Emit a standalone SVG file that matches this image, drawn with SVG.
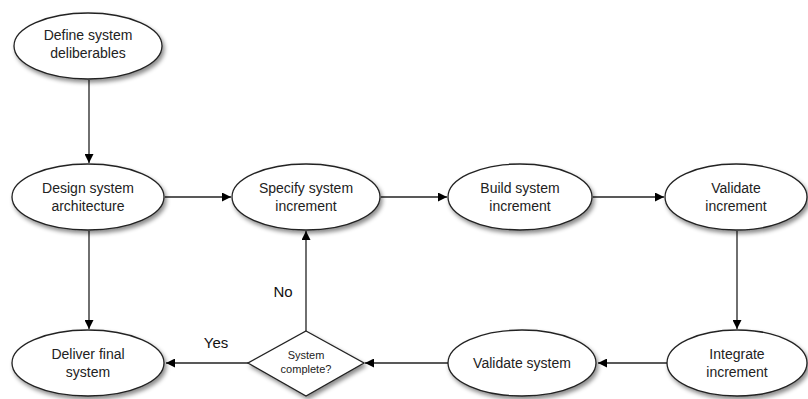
<svg xmlns="http://www.w3.org/2000/svg" width="808" height="399" viewBox="0 0 808 399">
  <defs>
    <filter id="shadow" x="-20%" y="-20%" width="150%" height="160%">
      <feDropShadow dx="2" dy="3" stdDeviation="2.2" flood-color="#000" flood-opacity="0.45"/>
    </filter>
    <marker id="arrow" viewBox="0 0 10 10" refX="10" refY="5" markerWidth="9" markerHeight="9" markerUnits="userSpaceOnUse" orient="auto">
      <path d="M0,0 L10,5 L0,10 z" fill="#000"/>
    </marker>
  </defs>
  <style>
    .node { fill: #fff; stroke: #222; stroke-width: 1.3; filter: url(#shadow); }
    .label { font-family: "Liberation Sans", Arial, sans-serif; font-size: 14px; fill: #222; text-anchor: middle; }
    .small { font-family: "Liberation Sans", Arial, sans-serif; font-size: 11px; fill: #222; text-anchor: middle; }
    .edge-label { font-family: "Liberation Sans", Arial, sans-serif; font-size: 15px; fill: #111; text-anchor: middle; }
    .edge { stroke: #222; stroke-width: 1.3; fill: none; marker-end: url(#arrow); }
  </style>
  <rect width="808" height="399" fill="#fff"/>

  <g id="connectors">
    <line class="edge" x1="89" y1="80" x2="89" y2="163"/>
    <line class="edge" x1="165" y1="197" x2="231" y2="197"/>
    <line class="edge" x1="381" y1="197" x2="447" y2="197"/>
    <line class="edge" x1="593" y1="197" x2="664" y2="197"/>
    <line class="edge" x1="737" y1="231" x2="737" y2="329"/>
    <line class="edge" x1="667" y1="363" x2="598" y2="363"/>
    <line class="edge" x1="448" y1="363" x2="365" y2="363"/>
    <line class="edge" x1="248" y1="363" x2="166" y2="363"/>
    <line class="edge" x1="306" y1="331" x2="306" y2="231"/>
    <line class="edge" x1="89" y1="231" x2="89" y2="329"/>
    <text class="edge-label" x="216" y="348">Yes</text>
    <text class="edge-label" x="283" y="297">No</text>
  </g>

  <g id="define-deliverables">
    <ellipse class="node" cx="88" cy="46" rx="74" ry="33"/>
    <text class="label" x="88" y="40">Define system</text>
    <text class="label" x="88" y="58">deliberables</text>
  </g>

  <g id="design-architecture">
    <ellipse class="node" cx="88" cy="197" rx="76" ry="33"/>
    <text class="label" x="88" y="193">Design system</text>
    <text class="label" x="88" y="211">architecture</text>
  </g>

  <g id="specify-increment">
    <ellipse class="node" cx="306" cy="197" rx="74" ry="33"/>
    <text class="label" x="306" y="193">Specify system</text>
    <text class="label" x="306" y="211">increment</text>
  </g>

  <g id="build-increment">
    <ellipse class="node" cx="520" cy="197" rx="72" ry="33"/>
    <text class="label" x="520" y="193">Build system</text>
    <text class="label" x="520" y="211">increment</text>
  </g>

  <g id="validate-increment">
    <ellipse class="node" cx="736" cy="197" rx="71" ry="33"/>
    <text class="label" x="736" y="193">Validate</text>
    <text class="label" x="736" y="211">increment</text>
  </g>

  <g id="integrate-increment">
    <ellipse class="node" cx="737" cy="363" rx="70" ry="33"/>
    <text class="label" x="737" y="359">Integrate</text>
    <text class="label" x="737" y="377">increment</text>
  </g>

  <g id="validate-system">
    <ellipse class="node" cx="522" cy="363" rx="74" ry="33"/>
    <text class="label" x="522" y="368">Validate system</text>
  </g>

  <g id="system-complete">
    <polygon class="node" points="306,331 364,363 306,396 248,363"/>
    <text class="small" x="306" y="359">System</text>
    <text class="small" x="306" y="373">complete?</text>
  </g>

  <g id="deliver-system">
    <ellipse class="node" cx="88" cy="363" rx="76" ry="33"/>
    <text class="label" x="88" y="359">Deliver final</text>
    <text class="label" x="88" y="377">system</text>
  </g>
</svg>
